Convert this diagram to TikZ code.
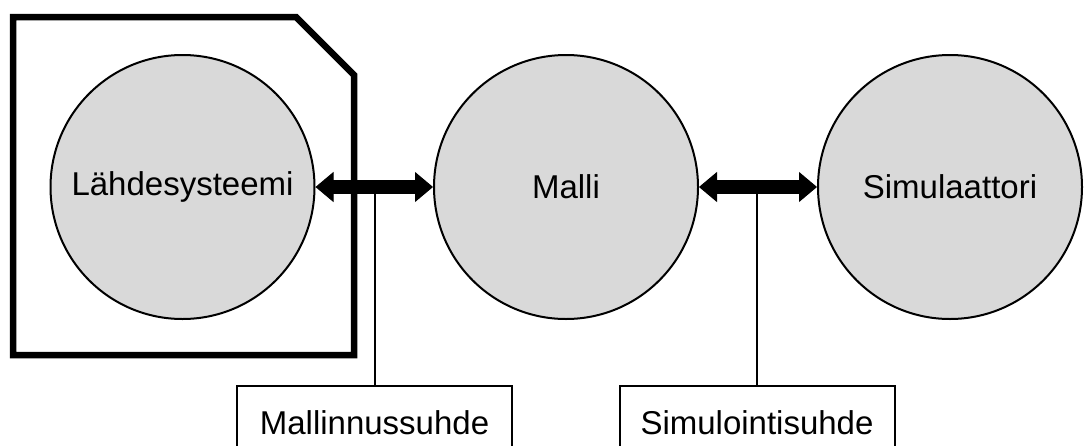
\documentclass[tikz,border=0pt]{standalone}
\usepackage{fontspec}
\setmainfont{Liberation Sans}
\usetikzlibrary{arrows.meta}
\definecolor{circlefill}{HTML}{D9D9D9}
\begin{document}
\begin{tikzpicture}[x=1pt,y=-1pt,
  every node/.style={font=\fontsize{33}{40}\selectfont},
  system/.style={circle,draw=black,line width=2pt,fill=circlefill,minimum size=264pt,inner sep=0pt},
  relbox/.style={rectangle,draw=black,line width=2pt,fill=white,minimum width=275pt,minimum height=74pt,anchor=north,inner sep=0pt},
  bigarrow/.style={line width=14pt,{Triangle[length=18pt,width=30pt,line width=1pt]}-{Triangle[length=18pt,width=30pt,line width=1pt]}},
  thinline/.style={line width=2pt},
  frameline/.style={line width=6.5pt,line join=miter}]
  \clip (0,0) rectangle (1085,445);
  \fill[white] (0,0) rectangle (1085,445);

  % frame around the source system
  \draw[frameline] (13,17) -- (296,17) -- (354,75) -- (354,355) -- (13,355) -- cycle;

  % the three systems
  \node[system] (lahde) at (182.5,187) {Lähdesysteemi};
  \node[system] (malli) at (566,187) {Malli};
  \node[system] (simu) at (950,187) {Simulaattori};

  % relation labels
  \node[relbox] (mallinnus) at (374.5,385) {Mallinnussuhde};
  \node[relbox] (simulointi) at (757,385) {Simulointisuhde};

  % leader lines from the relation arrows to their labels
  \draw[thinline] (mallinnus.north) -- (mallinnus.north |- lahde.east);
  \draw[thinline] (simulointi.north) -- (simulointi.north |- malli.east);

  % relation arrows
  \draw[bigarrow] (lahde) -- (malli);
  \draw[bigarrow] (malli) -- (simu);
\end{tikzpicture}
\end{document}
